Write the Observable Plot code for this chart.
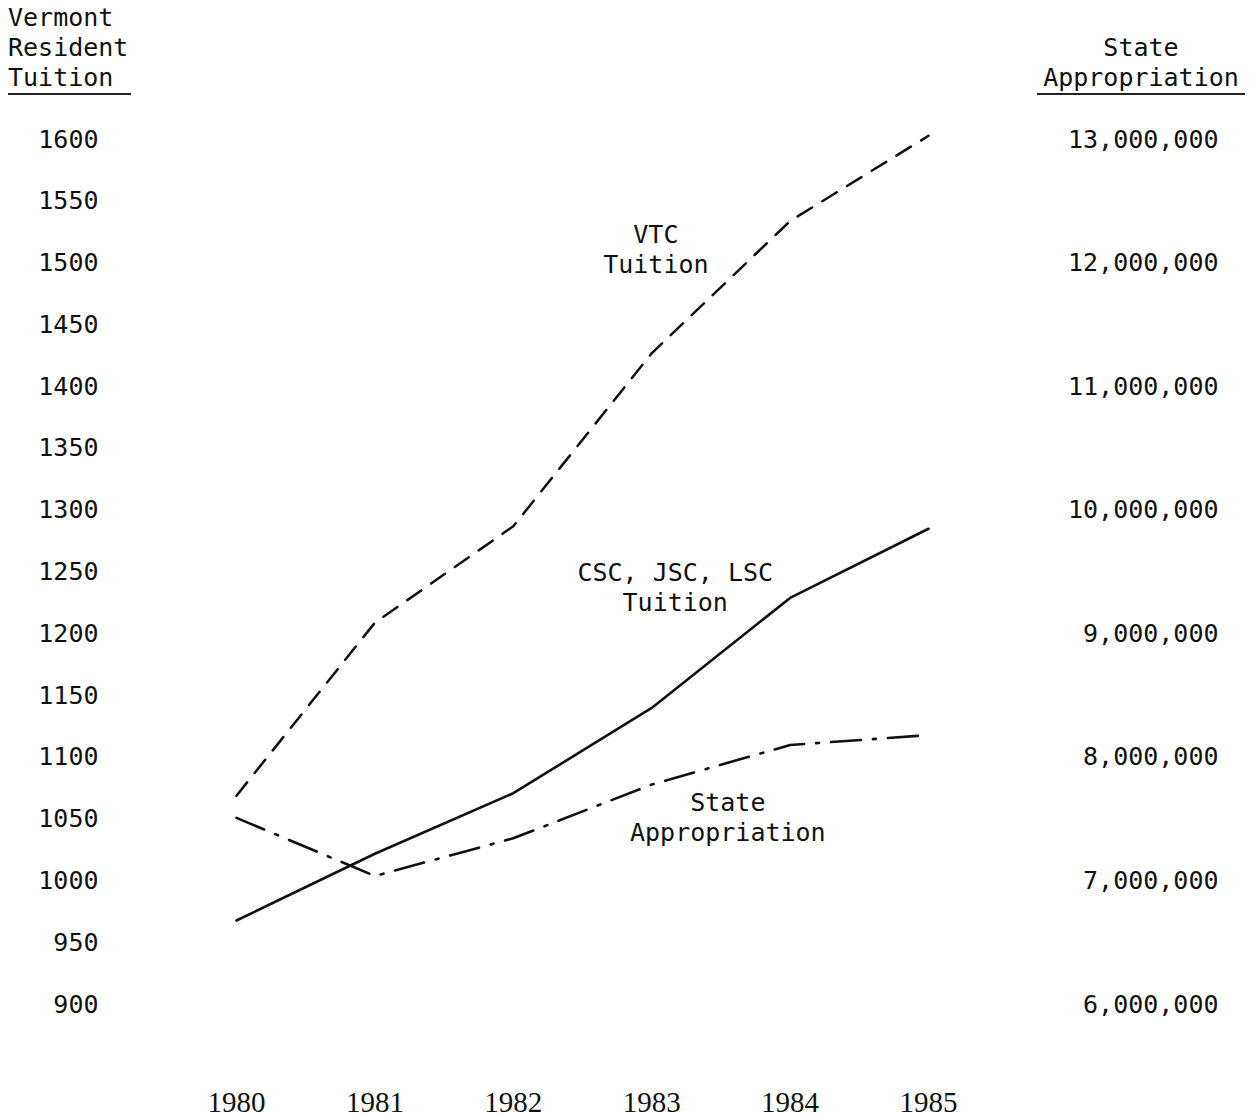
<!DOCTYPE html>
<html><head><meta charset="utf-8">
<script src="https://cdn.jsdelivr.net/npm/d3@7"></script>
<script src="https://cdn.jsdelivr.net/npm/@observablehq/plot@0.6"></script>
<style>
body{margin:0;background:#fff;}
#wrap{position:relative;width:1257px;height:1116px;}
.ttl{position:absolute;font-family:"DejaVu Sans Mono",monospace;font-size:25px;line-height:30px;color:#111;border-bottom:2px solid #222;}
</style></head><body>
<div id="wrap">
  <div class="ttl" style="left:8px;top:3px;width:123px;">Vermont<br>Resident<br>Tuition</div>
  <div class="ttl" style="left:1037px;top:33px;width:208px;text-align:center;">State<br>Appropriation</div>
</div>
<script>
const years = [1980, 1981, 1982, 1983, 1984, 1985];
const vtcTuition = [1069, 1209, 1287, 1427, 1534, 1603];
const cscTuition = [968, 1022, 1071, 1140, 1229, 1285];
const stateAppropriation = [7510000, 7040000, 7345000, 7780000, 8100000, 8180000];
const tuitionTicks = [900, 950, 1000, 1050, 1100, 1150, 1200, 1250, 1300, 1350, 1400, 1450, 1500, 1550, 1600];
const appropriationTicks = [6000000, 7000000, 8000000, 9000000, 10000000, 11000000, 12000000, 13000000];
const seriesLabels = ["VTC\nTuition", "CSC, JSC, LSC\nTuition", "State\nAppropriation"];
const labelYears = [1983.03, 1983.17, 1983.55];
const labelTuition = [1512, 1238, 1052];

// right axis maps 6,000,000..13,000,000 onto 900..1600 of the left axis
const toLeft = v => 900 + (v - 6000000) / 10000;

const vtc = years.map((year, i) => ({year, value: vtcTuition[i]}));
const csc = years.map((year, i) => ({year, value: cscTuition[i]}));
const approp = years.map((year, i) => ({year, value: toLeft(stateAppropriation[i])}));
const labels = seriesLabels.map((text, i) => ({text, year: labelYears[i], value: labelTuition[i]}));

const mono = "DejaVu Sans Mono, monospace";
const ink = "#111";

const chart = Plot.plot({
  width: 1257,
  height: 1116,
  marginLeft: 98,
  marginRight: 39,
  marginTop: 0,
  marginBottom: 5,
  x: {domain: [1980, 1985], range: [236, 928], axis: null},
  y: {domain: [900, 1600], range: [1004, 139], axis: null},
  marks: [
    Plot.line(vtc, {x: "year", y: "value", stroke: ink, strokeWidth: 2.5, strokeDasharray: "17,12"}),
    Plot.line(csc, {x: "year", y: "value", stroke: ink, strokeWidth: 2.6}),
    Plot.line(approp, {x: "year", y: "value", stroke: ink, strokeWidth: 2.6, strokeDasharray: "30,12,3,12"}),
    Plot.text(tuitionTicks, {y: d => d, text: d => String(d), frameAnchor: "left", textAnchor: "end", fontFamily: mono, fontSize: 25, fill: ink}),
    Plot.text(appropriationTicks, {y: d => toLeft(d), text: d => d3.format(",")(d), frameAnchor: "right", textAnchor: "end", fontFamily: mono, fontSize: 25, fill: ink}),
    Plot.text(years, {x: d => d, text: d => String(d), frameAnchor: "bottom", lineAnchor: "bottom", fontFamily: "Liberation Serif, serif", fontSize: 29, fill: ink}),
    Plot.text(labels, {x: "year", y: "value", text: "text", lineHeight: 1.2, fontFamily: mono, fontSize: 25, fill: ink})
  ]
});
document.getElementById("wrap").appendChild(chart);
chart.style.position = "absolute";
chart.style.left = "0";
chart.style.top = "0";
</script>
</body></html>
